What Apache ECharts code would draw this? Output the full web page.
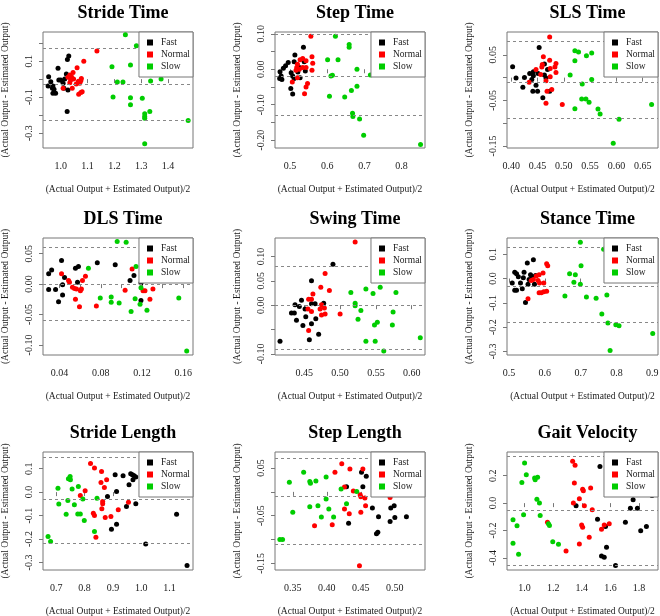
<!DOCTYPE html>
<html><head><meta charset="utf-8">
<script src="https://cdn.jsdelivr.net/npm/echarts@6/dist/echarts.min.js"></script>
<style>html,body{margin:0;padding:0;background:#fff}#c{width:660px;height:616px}</style>
</head><body><div id="c"></div>
<script>
const titles = ['Stride Time','Step Time','SLS Time','DLS Time','Swing Time','Stance Time','Stride Length','Step Length','Gait Velocity'];
const groupNames = ['Fast','Normal','Slow'];
const groupColors = ['#000000','#FF0000','#00CD00'];
const xAxisTitle = '(Actual Output + Estimated Output)/2';
const yAxisTitle = '(Actual Output - Estimated Output)';

// Stride Time
const strideTimeFast = [[1.030,0.128],[1.025,0.109],[0.990,0.061],[0.955,0.013],[0.963,-0.014],[0.953,-0.038],[0.971,-0.038],[0.975,-0.057],[0.971,-0.079],[0.981,-0.079],[0.993,-0.005],[1.000,-0.005],[1.015,0.000],[1.021,0.028],[1.012,-0.051],[1.027,-0.060],[1.024,-0.180],[1.009,-0.023],[0.969,-0.051]];
const strideTimeNormal = [[1.135,0.157],[1.086,0.100],[1.061,0.063],[1.046,0.037],[1.034,0.023],[1.027,0.010],[1.037,-0.005],[1.034,-0.020],[1.077,0.004],[1.075,-0.009],[1.071,-0.023],[1.058,-0.027],[1.080,-0.070],[1.075,-0.075],[1.067,-0.084],[1.043,-0.051],[1.009,-0.051],[1.048,0.000],[1.066,-0.012],[1.040,0.013]];
const strideTimeSlow = [[1.241,0.247],[1.282,0.185],[1.191,0.069],[1.260,0.078],[1.211,-0.016],[1.232,-0.016],[1.335,-0.011],[1.374,0.000],[1.195,-0.099],[1.260,-0.103],[1.304,-0.106],[1.260,-0.143],[1.332,-0.180],[1.313,-0.193],[1.313,-0.208],[1.313,-0.217],[1.475,-0.230],[1.313,-0.359]];
const strideTimeLimits = [0.174,-0.027,-0.226];

// Step Time
const stepTimeFast = [[0.536,0.062],[0.513,0.040],[0.538,0.021],[0.511,0.021],[0.495,0.019],[0.488,0.010],[0.482,0.003],[0.473,-0.007],[0.476,-0.019],[0.478,-0.029],[0.472,-0.026],[0.503,-0.010],[0.507,-0.019],[0.511,-0.026],[0.502,-0.054],[0.507,-0.070],[0.527,-0.024],[0.541,-0.005],[0.521,-0.008],[0.525,0.005]];
const stepTimeNormal = [[0.556,0.093],[0.559,0.035],[0.561,0.017],[0.534,0.030],[0.527,0.027],[0.543,0.024],[0.520,0.014],[0.518,0.005],[0.525,0.000],[0.516,-0.003],[0.534,0.005],[0.543,0.005],[0.559,-0.003],[0.506,-0.036],[0.520,-0.024],[0.547,-0.040],[0.543,-0.050],[0.539,-0.069]];
const stepTimeSlow = [[0.622,0.093],[0.659,0.070],[0.659,0.062],[0.601,0.027],[0.629,0.027],[0.680,0.000],[0.716,-0.016],[0.610,-0.019],[0.614,-0.017],[0.680,-0.048],[0.665,-0.060],[0.606,-0.076],[0.647,-0.078],[0.668,-0.124],[0.669,-0.133],[0.687,-0.140],[0.698,-0.186],[0.851,-0.212]];
const stepTimeLimits = [0.102,-0.016,-0.133];

// SLS Time
const slsTimeFast = [[0.4025,0.024],[0.409,-0.001],[0.425,0.000],[0.435,0.009],[0.439,-0.004],[0.442,0.004],[0.442,0.013],[0.451,0.009],[0.453,0.066],[0.447,-0.017],[0.450,-0.030],[0.441,-0.030],[0.422,-0.021],[0.460,-0.044],[0.463,0.030],[0.463,0.006],[0.466,-0.001],[0.469,0.018],[0.473,-0.030]];
const slsTimeNormal = [[0.473,0.089],[0.461,0.046],[0.473,0.038],[0.485,0.031],[0.483,0.023],[0.474,0.020],[0.459,0.029],[0.447,0.018],[0.458,0.023],[0.456,0.007],[0.485,0.011],[0.474,0.002],[0.466,-0.007],[0.434,-0.010],[0.477,-0.026],[0.468,-0.030],[0.466,-0.056],[0.497,-0.059]];
const slsTimeSlow = [[0.521,0.059],[0.528,0.056],[0.553,0.054],[0.543,0.048],[0.521,0.037],[0.512,0.006],[0.553,-0.004],[0.535,-0.014],[0.534,-0.047],[0.542,-0.047],[0.548,-0.054],[0.521,-0.068],[0.565,-0.069],[0.569,-0.080],[0.605,-0.091],[0.667,-0.059],[0.594,-0.144]];
const slsTimeLimits = [0.081,-0.005,-0.089];

// DLS Time
const dlsTimeFast = [[0.0294,0.017],[0.0323,0.023],[0.0419,0.039],[0.0294,-0.009],[0.0361,-0.009],[0.0429,-0.001],[0.0429,-0.018],[0.0390,-0.029],[0.0448,0.011],[0.0554,0.026],[0.0583,0.029],[0.0574,0.003],[0.0766,0.035],[0.0940,0.032],[0.1084,0.006],[0.1122,0.014],[0.1190,0.002],[0.1190,-0.027]];
const dlsTimeNormal = [[0.0419,0.017],[0.0487,0.006],[0.0496,0.003],[0.0525,-0.005],[0.0545,-0.007],[0.0564,-0.008],[0.0612,-0.008],[0.0602,-0.011],[0.0622,0.006],[0.0651,0.013],[0.0554,-0.025],[0.0593,-0.037],[0.0757,-0.036],[0.1036,-0.010],[0.1104,0.025],[0.1210,-0.011],[0.1229,-0.011],[0.1306,-0.008],[0.1277,-0.025]];
const dlsTimeSlow = [[0.0680,0.026],[0.0795,-0.023],[0.0901,-0.021],[0.0901,-0.030],[0.0978,-0.031],[0.0959,0.070],[0.1046,0.069],[0.1142,0.029],[0.1133,-0.024],[0.1094,-0.045],[0.1181,-0.033],[0.1190,-0.006],[0.1248,-0.043],[0.1557,-0.023],[0.1634,-0.110]];
const dlsTimeLimits = [0.0555,-0.002,-0.060];

// Swing Time
const swingTimeFast = [[0.490,0.084],[0.460,0.050],[0.446,0.010],[0.437,0.001],[0.443,-0.003],[0.432,-0.016],[0.436,-0.016],[0.439,-0.031],[0.448,-0.042],[0.452,-0.024],[0.451,-0.008],[0.460,0.003],[0.465,0.003],[0.466,-0.028],[0.460,-0.038],[0.477,0.004],[0.470,-0.060],[0.457,-0.071],[0.416,-0.074]];
const swingTimeNormal = [[0.521,0.130],[0.479,0.065],[0.473,0.037],[0.485,0.030],[0.462,0.023],[0.460,0.012],[0.456,0.012],[0.455,-0.008],[0.460,-0.013],[0.474,0.001],[0.472,-0.008],[0.478,-0.006],[0.474,-0.020],[0.479,-0.018],[0.500,-0.018],[0.456,-0.052]];
const swingTimeSlow = [[0.515,0.026],[0.536,0.033],[0.546,0.024],[0.556,0.037],[0.578,0.026],[0.521,0.004],[0.521,-0.001],[0.529,-0.011],[0.525,-0.029],[0.574,-0.014],[0.552,-0.035],[0.548,-0.041],[0.573,-0.041],[0.536,-0.074],[0.549,-0.074],[0.561,-0.094],[0.612,-0.067]];
const swingTimeLimits = [0.0786,-0.0047,-0.0895];

// Stance Time
const stanceTimeFast = [[0.568,0.077],[0.551,0.064],[0.516,0.026],[0.521,0.020],[0.542,0.026],[0.526,0.007],[0.540,0.003],[0.560,0.016],[0.565,0.007],[0.556,-0.004],[0.574,0.012],[0.509,-0.018],[0.532,-0.018],[0.553,-0.024],[0.571,-0.024],[0.521,-0.048],[0.516,-0.048],[0.537,-0.042],[0.546,-0.099]];
const stanceTimeNormal = [[0.605,0.061],[0.608,0.053],[0.595,0.023],[0.584,0.016],[0.576,0.010],[0.568,-0.004],[0.562,-0.008],[0.597,-0.018],[0.581,-0.008],[0.585,-0.018],[0.584,-0.058],[0.590,-0.058],[0.597,-0.054],[0.605,-0.052],[0.553,-0.083]];
const stanceTimeSlow = [[0.699,0.149],[0.764,0.121],[0.701,0.053],[0.669,0.020],[0.685,0.016],[0.681,-0.015],[0.699,-0.024],[0.656,-0.072],[0.716,-0.076],[0.743,-0.081],[0.773,-0.068],[0.759,-0.146],[0.776,-0.183],[0.798,-0.190],[0.807,-0.194],[0.901,-0.226],[0.782,-0.296]];
const stanceTimeLimits = [0.129,-0.027,-0.183];

// Stride Length
const strideLengthFast = [[0.908,0.074],[0.936,0.070],[0.963,0.078],[0.969,0.074],[0.975,0.070],[0.971,0.053],[0.981,0.064],[0.957,0.031],[0.913,0.003],[0.881,-0.019],[0.948,-0.061],[0.981,-0.050],[0.895,-0.158],[0.913,-0.137],[1.016,-0.221],[1.125,-0.094],[1.162,-0.313]];
const strideLengthNormal = [[0.821,0.122],[0.835,0.103],[0.860,0.088],[0.878,0.053],[0.858,0.041],[0.870,0.020],[0.802,0.006],[0.785,-0.014],[0.864,-0.040],[0.864,-0.050],[0.861,-0.071],[0.919,-0.075],[0.955,-0.043],[0.831,-0.090],[0.835,-0.100],[0.873,-0.108],[0.893,-0.104],[0.840,-0.192]];
const strideLengthSlow = [[0.706,0.017],[0.750,0.053],[0.743,0.057],[0.749,0.067],[0.756,0.013],[0.778,0.024],[0.709,-0.051],[0.741,-0.036],[0.764,-0.054],[0.794,-0.029],[0.844,-0.026],[0.735,-0.094],[0.776,-0.093],[0.785,-0.093],[0.799,-0.121],[0.835,-0.168],[0.671,-0.189],[0.680,-0.211]];
const strideLengthLimits = [0.152,-0.030,-0.218];

// Step Length
const stepLengthFast = [[0.451,0.041],[0.458,0.033],[0.453,0.011],[0.467,-0.034],[0.476,-0.052],[0.494,-0.034],[0.499,-0.029],[0.500,-0.054],[0.517,-0.052],[0.493,-0.062],[0.432,-0.066],[0.473,-0.088],[0.475,-0.085],[0.429,0.011]];
const stepLengthNormal = [[0.422,0.059],[0.453,0.048],[0.434,0.048],[0.412,0.041],[0.426,0.010],[0.439,0.002],[0.449,-0.006],[0.450,-0.010],[0.456,-0.013],[0.493,-0.012],[0.457,-0.029],[0.426,-0.036],[0.433,-0.046],[0.450,-0.043],[0.408,-0.069],[0.382,-0.071],[0.448,-0.155]];
const stepLengthSlow = [[0.366,0.041],[0.345,0.020],[0.375,0.022],[0.376,0.018],[0.384,0.023],[0.399,0.031],[0.421,0.006],[0.444,0.001],[0.399,-0.015],[0.375,-0.031],[0.387,-0.029],[0.403,-0.036],[0.429,-0.025],[0.350,-0.043],[0.392,-0.053],[0.410,-0.053],[0.331,-0.100],[0.335,-0.100]];
const stepLengthLimits = [0.075,-0.015,-0.107];

// Gait Velocity
const gaitVelocityFast = [[1.527,0.268],[1.891,0.056],[1.759,0.024],[1.740,-0.037],[1.789,-0.037],[1.360,-0.020],[1.510,-0.117],[1.705,-0.139],[1.852,-0.171],[1.812,-0.202],[1.566,-0.171],[1.573,-0.322],[1.538,-0.385],[1.557,-0.395],[1.636,-0.456]];
const gaitVelocityNormal = [[1.336,0.305],[1.353,0.276],[1.348,0.146],[1.406,0.102],[1.411,0.090],[1.462,0.110],[1.383,0.032],[1.341,0.000],[1.418,-0.020],[1.473,-0.049],[1.399,-0.159],[1.406,-0.176],[1.557,-0.159],[1.592,-0.151],[1.538,-0.190],[1.452,-0.249],[1.383,-0.298],[1.290,-0.349],[1.160,-0.139]];
const gaitVelocitySlow = [[1.000,0.293],[1.012,0.207],[0.981,0.151],[1.070,0.183],[1.074,0.171],[1.091,0.188],[1.086,0.029],[1.104,0.000],[1.109,-0.090],[0.993,-0.085],[0.919,-0.122],[0.947,-0.166],[1.167,-0.151],[1.174,-0.163],[0.919,-0.293],[0.958,-0.373],[1.197,-0.281],[1.237,-0.300]];
const gaitVelocityLimits = [0.341,-0.049,-0.446];

// tick marks and labels
const xTickValues = [[1.0,1.1,1.2,1.3,1.4],[0.5,0.6,0.7,0.8],[0.40,0.45,0.50,0.55,0.60,0.65],[0.04,0.06,0.08,0.10,0.12,0.14,0.16],[0.45,0.50,0.55,0.60],[0.5,0.6,0.7,0.8,0.9],[0.7,0.8,0.9,1.0,1.1],[0.35,0.40,0.45,0.50],[1.0,1.2,1.4,1.6,1.8]];
const xTickLabels = [[1.0,1.1,1.2,1.3,1.4],[0.5,0.6,0.7,0.8],[0.40,0.45,0.50,0.55,0.60,0.65],[0.04,0.08,0.12,0.16],[0.45,0.50,0.55,0.60],[0.5,0.6,0.7,0.8,0.9],[0.7,0.8,0.9,1.0,1.1],[0.35,0.40,0.45,0.50],[1.0,1.2,1.4,1.6,1.8]];
const yTickValues = [[-0.3,-0.2,-0.1,0,0.1,0.2],[-0.20,-0.15,-0.10,-0.05,0,0.05,0.10],[-0.15,-0.10,-0.05,0,0.05],[-0.10,-0.05,0,0.05],[-0.10,-0.05,0,0.05,0.10],[-0.3,-0.2,-0.1,0,0.1],[-0.3,-0.2,-0.1,0,0.1],[-0.15,-0.10,-0.05,0,0.05],[-0.4,-0.2,0,0.2]];
const yTickLabels = [[-0.3,-0.1,0.1],[-0.20,-0.10,0,0.10],[-0.15,-0.05,0.05],[-0.10,-0.05,0,0.05],[-0.10,0,0.05,0.10],[-0.3,-0.2,-0.1,0,0.1],[-0.3,-0.2,-0.1,0,0.1],[-0.15,-0.05,0.05],[-0.4,-0.2,0,0.2]];
const xDecimals = [1,1,2,2,2,1,1,2,1];
const yDecimals = [1,2,2,2,2,1,1,2,1];
const xRanges = [[0.934,1.493],[0.4595,0.863],[0.3918,0.6792],[0.0239,0.1695],[0.409,0.6186],[0.4944,0.9157],[0.6532,1.183],[0.3239,0.5443],[0.877,1.933]];
const yRanges = [[-0.383,0.262],[-0.222,0.105],[-0.1543,0.100],[-0.1165,0.0758],[-0.1024,0.138],[-0.3146,0.1668],[-0.332,0.171],[-0.164,0.0837],[-0.488,0.373]];

const panelData = [
  [strideTimeFast, strideTimeNormal, strideTimeSlow, strideTimeLimits],
  [stepTimeFast, stepTimeNormal, stepTimeSlow, stepTimeLimits],
  [slsTimeFast, slsTimeNormal, slsTimeSlow, slsTimeLimits],
  [dlsTimeFast, dlsTimeNormal, dlsTimeSlow, dlsTimeLimits],
  [swingTimeFast, swingTimeNormal, swingTimeSlow, swingTimeLimits],
  [stanceTimeFast, stanceTimeNormal, stanceTimeSlow, stanceTimeLimits],
  [strideLengthFast, strideLengthNormal, strideLengthSlow, strideLengthLimits],
  [stepLengthFast, stepLengthNormal, stepLengthSlow, stepLengthLimits],
  [gaitVelocityFast, gaitVelocityNormal, gaitVelocitySlow, gaitVelocityLimits]
];

// layout
const colLeft = [43, 275, 507];
const colWidth = [150, 150, 151];
const rowTop = [32, 238, 452];
const rowHeight = [116, 117, 118];
const W = 660;
const FONT = 'Liberation Serif';
const TXT = '#1a1a1a';
const BOX = '#777';

const option = {animation:false, backgroundColor:'#fff', title:[], grid:[], xAxis:[], yAxis:[], legend:[], series:[]};

for (let i = 0; i < 9; i++) {
  const r = Math.floor(i/3), c = i%3;
  const left = colLeft[c], top = rowTop[r], w = colWidth[c], h = rowHeight[r];
  option.title.push({text: titles[i], left: left + w/2, top: top - 33, textAlign:'center',
    textStyle:{fontFamily:FONT, fontWeight:'bold', fontSize:18, color:'#000'}});
  option.grid.push({left:left, top:top, width:w, height:h, show:true, borderColor:BOX, borderWidth:1,
    backgroundColor:'transparent', containLabel:false, outerBoundsMode:'none'});
  const xd = xDecimals[i], yd = yDecimals[i];
  option.xAxis.push({gridIndex:i, type:'value', min:xRanges[i][0], max:xRanges[i][1],
    axisLine:{show:false}, splitLine:{show:false},
    axisTick:{show:true, length:4, lineStyle:{color:BOX}, customValues:xTickValues[i]},
    axisLabel:{customValues:xTickLabels[i], formatter:(v)=>v.toFixed(xd), fontFamily:FONT, fontSize:10, color:TXT, margin:13},
    name:xAxisTitle, nameLocation:'middle', nameGap:36,
    nameTextStyle:{fontFamily:FONT, fontSize:9.5, color:TXT}});
  option.yAxis.push({gridIndex:i, type:'value', min:yRanges[i][0], max:yRanges[i][1],
    axisLine:{show:false}, splitLine:{show:false},
    axisTick:{show:true, length:4, lineStyle:{color:BOX}, customValues:yTickValues[i]},
    axisLabel:{customValues:yTickLabels[i], formatter:(v)=>v.toFixed(yd), rotate:90, fontFamily:FONT, fontSize:10, color:TXT, margin:9},
    name:yAxisTitle, nameLocation:'middle', nameGap:33, nameRotate:90,
    nameTextStyle:{fontFamily:FONT, fontSize:9.5, color:TXT}});
  option.legend.push({data:groupNames, orient:'vertical', right: W - (left + w), top: top,
    icon:'rect', itemWidth:6, itemHeight:6, itemGap:1, selectedMode:false,
    backgroundColor:'#fff', borderColor:BOX, borderWidth:1, borderRadius:0, padding:[5,3,5,8],
    textStyle:{fontFamily:FONT, fontSize:9.5, color:TXT, lineHeight:11, padding:[0,0,0,3]}, z:10});
  const d = panelData[i];
  for (let g = 0; g < 3; g++) {
    const s = {type:'scatter', name:groupNames[g], xAxisIndex:i, yAxisIndex:i, data:d[g],
      symbol:'circle', symbolSize:5, itemStyle:{color:groupColors[g], opacity:1}, silent:true, z:3};
    if (g === 0) {
      s.markLine = {silent:true, symbol:'none', label:{show:false}, animation:false,
        lineStyle:{type:[3,3], color:'#888', width:1},
        data: d[3].map(v => ({yAxis:v}))};
    }
    option.series.push(s);
  }
}

const chart = echarts.init(document.getElementById('c'), null, {renderer:'canvas'});
chart.setOption(option);
</script></body></html>
